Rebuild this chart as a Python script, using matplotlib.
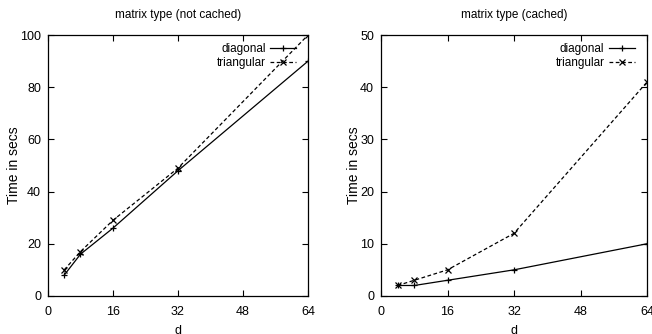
import matplotlib
matplotlib.use('Agg')
import matplotlib.pyplot as plt

plt.rcParams['font.family'] = ['Liberation Sans Narrow', 'Liberation Sans', 'DejaVu Sans']

d = [4, 8, 16, 32, 64]
diag_nc = [8, 16, 26, 48, 90]
tri_nc = [10, 17, 29, 49, 100]
diag_c = [2, 2, 3, 5, 10]
tri_c = [2, 3, 5, 12, 41]

fig = plt.figure(figsize=(6.52, 3.34), dpi=100)
ax1 = fig.add_axes([0.0736, 0.114, 0.3988, 0.781])
ax2 = fig.add_axes([0.5844, 0.114, 0.4080, 0.781])


def style(ax, title, ymax, ystep, diag, tri, ylab_x):
    ax.plot(d, diag, color='black', lw=0.9, marker='+', ms=5, mew=0.9, label='diagonal')
    ax.plot(d, tri, color='black', lw=0.9, ls=(0, (3, 2)), marker='x', ms=4, mew=0.9,
            label='triangular')
    ax.set_xlim(0, 64)
    ax.set_ylim(0, ymax)
    ax.set_xticks([0, 16, 32, 48, 64])
    ax.set_yticks(range(0, ymax + 1, ystep))
    ax.tick_params(direction='in', top=True, right=True, labelsize=9, length=4, width=0.8)
    ax.tick_params(axis='x', pad=7)
    ax.tick_params(axis='y', pad=5)
    ax.set_title(title, fontsize=8.5, pad=12)
    ax.set_xlabel('d', fontsize=9, labelpad=5)
    ax.set_ylabel('Time in secs', fontsize=10)
    ax.yaxis.set_label_coords(ylab_x, 0.5)
    for s in ax.spines.values():
        s.set_linewidth(0.9)
    ax.legend(loc='upper right', bbox_to_anchor=(0.955, 0.968), frameon=False,
              markerfirst=False, fontsize=8.5, handlelength=2.2, handletextpad=0.4,
              labelspacing=0.15, borderpad=0, borderaxespad=0)


style(ax1, 'matrix type (not cached)', 100, 20, diag_nc, tri_nc, -0.104)
style(ax2, 'matrix type (cached)', 50, 10, diag_c, tri_c, -0.075)

fig.savefig('out.png', dpi=100)
